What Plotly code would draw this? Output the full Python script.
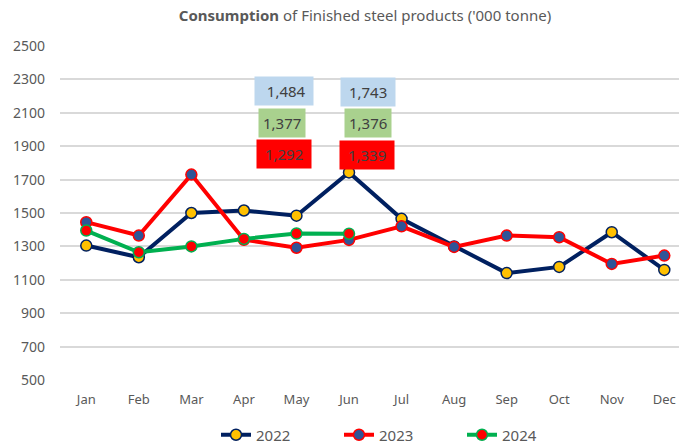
import plotly.graph_objects as go

months = ["Jan", "Feb", "Mar", "Apr", "May", "Jun", "Jul", "Aug", "Sep", "Oct", "Nov", "Dec"]
v2022 = [1305, 1235, 1500, 1515, 1484, 1743, 1465, 1300, 1140, 1177, 1385, 1159]
v2023 = [1445, 1365, 1730, 1340, 1292, 1339, 1420, 1297, 1365, 1355, 1195, 1245]
v2024 = [1395, 1265, 1300, 1345, 1377, 1376]
y_ticks = [500, 700, 900, 1100, 1300, 1500, 1700, 1900, 2100, 2300, 2500]

FONT = "Noto Sans"
GRAY = "#595959"

fig = go.Figure()
fig.add_trace(go.Scatter(x=months, y=v2022, name="2022", mode="lines+markers",
                         line=dict(color="#002060", width=4),
                         marker=dict(size=11, color="#FFC000", line=dict(color="#002060", width=1.5))))
fig.add_trace(go.Scatter(x=months, y=v2023, name="2023", mode="lines+markers",
                         line=dict(color="#FF0000", width=4),
                         marker=dict(size=11, color="#2F5597", line=dict(color="#FF0000", width=1.5))))
fig.add_trace(go.Scatter(x=months[:len(v2024)], y=v2024, name="2024", mode="lines+markers",
                         line=dict(color="#00B050", width=4),
                         marker=dict(size=11, color="#FF0000", line=dict(color="#00B050", width=1.5))))

def box(month, yval, text, bg, xshift):
    fig.add_annotation(x=month, y=yval, xref="x", yref="y", text=text, showarrow=False,
                       bgcolor=bg, borderpad=4, xshift=xshift,
                       font=dict(family=FONT, size=15, color="#404040"))

box("May", 2230, "&nbsp;&nbsp;" + f"{v2022[4]:,}" + "&nbsp;", "#BDD7EE", -12)
box("May", 2040, f"{v2024[4]:,}", "#A9D18E", -14)
box("May", 1853, "&nbsp;" + f"{v2023[4]:,}" + "&nbsp;", "#FF0000", -12)
box("Jun", 2225, "&nbsp;" + f"{v2022[5]:,}" + "&nbsp;", "#BDD7EE", 19)
box("Jun", 2040, f"{v2024[5]:,}", "#A9D18E", 19)
box("Jun", 1850, "&nbsp;" + f"{v2023[5]:,}" + "&nbsp;", "#FF0000", 18)

fig.update_layout(
    width=679, height=445,
    margin=dict(l=60, r=0, t=46, b=65, autoexpand=False),
    plot_bgcolor="white", paper_bgcolor="white",
    font=dict(family=FONT, color=GRAY, size=13),
    title=dict(text="<b>Consumption</b> of Finished steel products ('000 tonne)",
               x=365 / 679, xanchor="center", xref="container",
               y=1 - 16 / 445, yanchor="middle", yref="container",
               font=dict(family=FONT, size=15, color=GRAY)),
    showlegend=True,
    legend=dict(orientation="h", xref="container", x=216 / 679, xanchor="left",
                yref="container", y=1 - 435 / 445, yanchor="middle",
                font=dict(family=FONT, size=15, color=GRAY),
                entrywidth=78, entrywidthmode="pixels"),
    xaxis=dict(type="category", range=[-0.5, 11.28], showgrid=False, showline=False,
               ticks="", tickfont=dict(size=13, color=GRAY), zeroline=False,
               ticklabelstandoff=10, automargin=False),
    yaxis=dict(range=[500, 2500], tickvals=y_ticks, showgrid=True, gridcolor="#D9D9D9",
               gridwidth=1.5, zeroline=False, showline=False, ticks="",
               tickfont=dict(size=14, color=GRAY), ticklabelstandoff=14,
               automargin=False),
)

fig.write_html("out.html", config={"displayModeBar": False},
               post_script="document.body.style.margin='0';document.body.style.overflow='hidden';")
